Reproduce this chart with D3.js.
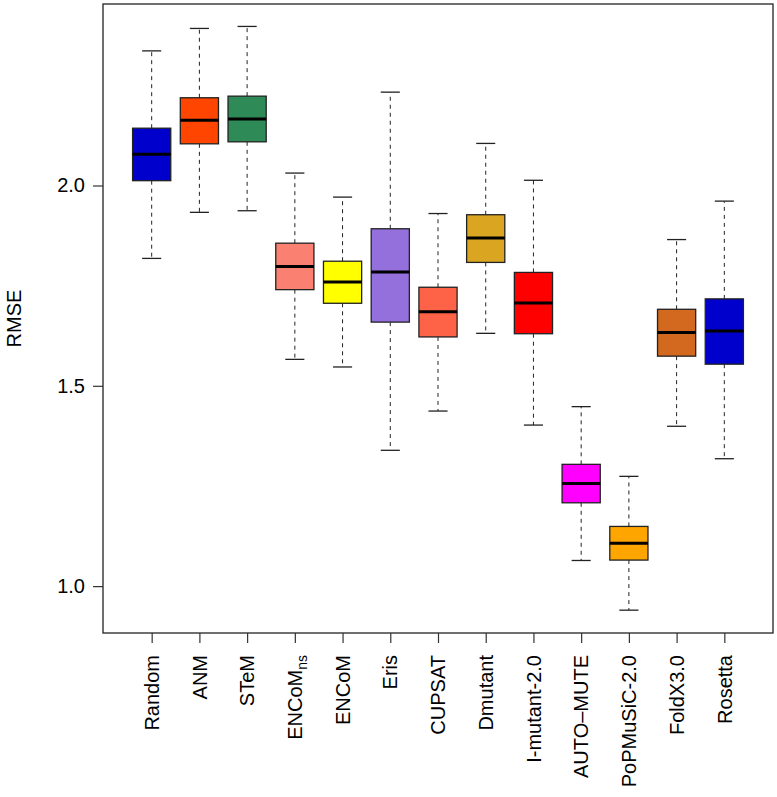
<!DOCTYPE html>
<html>
<head>
<meta charset="utf-8">
<script src="https://cdn.jsdelivr.net/npm/d3@7"></script>
<style>
  html, body { margin: 0; padding: 0; background: #fff; }
  svg { display: block; font-family: "Liberation Sans", Arial, Helvetica, sans-serif; }
</style>
</head>
<body>
<svg id="chart" width="777" height="797"></svg>
<script>
// ---- data ----
const categories = ["Random", "ANM", "STeM", "ENCoM_ns", "ENCoM", "Eris", "CUPSAT", "Dmutant",
                    "I-mutant-2.0", "AUTO\u2013MUTE", "PoPMuSiC-2.0", "FoldX3.0", "Rosetta"];
const whiskerLow  = [1.818, 1.933, 1.937, 1.566, 1.547, 1.339, 1.437, 1.631, 1.402, 1.064, 0.940, 1.399, 1.318];
const q1          = [2.012, 2.104, 2.109, 1.740, 1.706, 1.659, 1.622, 1.808, 1.630, 1.208, 1.065, 1.574, 1.554];
const median      = [2.078, 2.163, 2.166, 1.798, 1.759, 1.784, 1.685, 1.869, 1.707, 1.256, 1.107, 1.633, 1.637];
const q3          = [2.143, 2.219, 2.223, 1.856, 1.811, 1.892, 1.746, 1.927, 1.783, 1.304, 1.149, 1.691, 1.717];
const whiskerHigh = [2.336, 2.392, 2.397, 2.031, 1.971, 2.233, 1.930, 2.105, 2.013, 1.448, 1.274, 1.865, 1.961];
const fillColors  = ["#0000CD", "#FF4500", "#2E8B57", "#FA8072", "#FFFF00", "#9370DB", "#FF6347",
                     "#DAA520", "#FF0000", "#FF00FF", "#FFA500", "#D2691E", "#0000CD"];
const yTicks = [1.0, 1.5, 2.0];
const yLabel = "RMSE";

// ---- layout ----
const plot = { left: 103, right: 773, top: 4, bottom: 633 };
const n = categories.length;
const pad = 0.04 * n;
const x = d3.scaleLinear().domain([0.5 - pad, n + 0.5 + pad]).range([plot.left, plot.right]);
const y = d3.scaleLinear().domain([0.883, 2.453]).range([plot.bottom, plot.top]);
const unit = x(1) - x(0);
const boxW = 0.8 * unit;
const capW = 0.4 * unit;

const svg = d3.select("#chart");
svg.append("rect").attr("width", 777).attr("height", 797).attr("fill", "#fff");

const data = categories.map((c, i) => ({
  name: c, i: i + 1, lo: whiskerLow[i], q1: q1[i], med: median[i], q3: q3[i], hi: whiskerHigh[i], color: fillColors[i]
}));

const g = svg.append("g");
const boxes = g.selectAll("g.box").data(data).enter().append("g").attr("class", "box");

// whiskers (dashed)
boxes.append("line")
  .attr("x1", d => x(d.i)).attr("x2", d => x(d.i))
  .attr("y1", d => y(d.q3)).attr("y2", d => y(d.hi))
  .attr("stroke", "#222").attr("stroke-width", 1).attr("stroke-dasharray", "4,4");
boxes.append("line")
  .attr("x1", d => x(d.i)).attr("x2", d => x(d.i))
  .attr("y1", d => y(d.q1)).attr("y2", d => y(d.lo))
  .attr("stroke", "#222").attr("stroke-width", 1).attr("stroke-dasharray", "4,4");
// staples
boxes.append("line")
  .attr("x1", d => x(d.i) - capW / 2).attr("x2", d => x(d.i) + capW / 2)
  .attr("y1", d => y(d.hi)).attr("y2", d => y(d.hi))
  .attr("stroke", "#222").attr("stroke-width", 1.3);
boxes.append("line")
  .attr("x1", d => x(d.i) - capW / 2).attr("x2", d => x(d.i) + capW / 2)
  .attr("y1", d => y(d.lo)).attr("y2", d => y(d.lo))
  .attr("stroke", "#222").attr("stroke-width", 1.3);
// box
boxes.append("rect")
  .attr("x", d => x(d.i) - boxW / 2).attr("width", boxW)
  .attr("y", d => y(d.q3)).attr("height", d => y(d.q1) - y(d.q3))
  .attr("fill", d => d.color).attr("stroke", "#222").attr("stroke-width", 1.3);
// median
boxes.append("line")
  .attr("x1", d => x(d.i) - boxW / 2).attr("x2", d => x(d.i) + boxW / 2)
  .attr("y1", d => y(d.med)).attr("y2", d => y(d.med))
  .attr("stroke", "#000").attr("stroke-width", 3);

// frame
svg.append("rect")
  .attr("x", plot.left).attr("y", plot.top)
  .attr("width", plot.right - plot.left).attr("height", plot.bottom - plot.top)
  .attr("fill", "none").attr("stroke", "#222").attr("stroke-width", 1.3);

// y axis
const yAxis = d3.axisLeft(y).tickValues(yTicks).tickFormat(d3.format(".1f")).tickSize(10).tickPadding(8);
const ya = svg.append("g").attr("transform", `translate(${plot.left},0)`).call(yAxis);
ya.select(".domain").remove();
ya.selectAll(".tick line").attr("stroke", "#333").attr("stroke-width", 1.2);
ya.selectAll(".tick text").attr("font-size", 20).attr("font-family", "Liberation Sans, Arial, sans-serif").attr("fill", "#000");

// x axis
const xAxis = d3.axisBottom(x).tickValues(d3.range(1, n + 1)).tickFormat("").tickSize(10);
const xa = svg.append("g").attr("transform", `translate(0,${plot.bottom})`).call(xAxis);
xa.select(".domain").remove();
xa.selectAll(".tick line").attr("stroke", "#333").attr("stroke-width", 1.2);

// x labels (rotated)
const labels = svg.append("g").selectAll("text").data(data).enter().append("text")
  .attr("transform", d => `translate(${x(d.i)},655) rotate(-90)`)
  .attr("text-anchor", "end")
  .attr("dy", "0.36em")
  .attr("font-size", 20)
  .attr("fill", "#000");
labels.each(function(d) {
  const t = d3.select(this);
  const parts = d.name.split("_");
  t.append("tspan").text(parts[0]);
  if (parts.length > 1) {
    t.append("tspan").attr("font-size", 14).attr("dy", "0.35em").text(parts[1]);
  }
});

// y label
svg.append("text")
  .attr("transform", `translate(21,${(plot.top + plot.bottom) / 2}) rotate(-90)`)
  .attr("text-anchor", "middle")
  .attr("font-size", 20)
  .attr("fill", "#000")
  .text(yLabel);
</script>
</body>
</html>
